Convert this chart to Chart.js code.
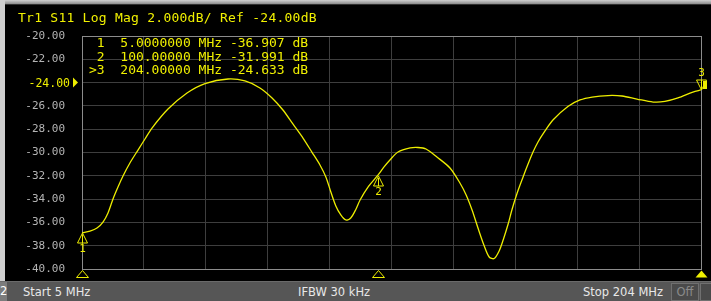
<!DOCTYPE html>
<html>
<head>
<meta charset="utf-8">
<script src="https://cdn.jsdelivr.net/npm/chart.js@4.4.1/dist/chart.umd.min.js"></script>
<style>
  html, body { margin: 0; padding: 0; background: #000; overflow: hidden; }
  #wrap { position: relative; width: 711px; height: 301px; background: #000; }
  #topstrip { position: absolute; left: 0; top: 0; width: 711px; height: 4px; background: linear-gradient(#d0d0d0, #8a8a8a); border-bottom: 1px solid #303030; }
  #leftstrip { position: absolute; left: 0; top: 0; width: 5px; height: 281px; background: #cfcfcf; }
  #header { position: absolute; left: 18px; top: 10px; font: 13px "DejaVu Sans Mono", monospace; line-height: 15px; letter-spacing: 0.25px; color: #f0f000; white-space: pre; }
  #readout { position: absolute; left: 89px; top: 36px; font: 13px "DejaVu Sans Mono", monospace; line-height: 13.5px; color: #f0f000; white-space: pre; margin: 0; }
  #status { position: absolute; left: 0; top: 281px; width: 711px; height: 20px; background: #565656; border-top: 1px solid #6a6a6a; box-sizing: border-box; font: 11.5px "DejaVu Sans", sans-serif; color: #e8e8e8; }
  #status span { position: absolute; top: 3px; white-space: pre; }
  #chnum { position: absolute; left: 0; top: 0; width: 7px; height: 19px; background: #7c7c7c; color: #fff; font: 11.5px "DejaVu Sans", sans-serif; line-height: 19px; text-align: center; }
  .box { position: absolute; top: 1px; height: 16px; background: #4a4a4a; border: 1px solid #707070; color: #8a8a8a; font: 11.5px "DejaVu Sans", sans-serif; line-height: 16px; text-align: center; }
  canvas { position: absolute; left: 0; top: 0; }
</style>
</head>
<body>
<div id="wrap">
  <canvas id="chart" width="711" height="301"></canvas>
  <div id="topstrip"></div>
  <div id="leftstrip"></div>
  <div id="header"></div>
  <pre id="readout"></pre>
  <div id="status">
    <div id="chnum">2</div>
    <span style="left:23px">Start 5 MHz</span>
    <span style="left:298px">IFBW 30 kHz</span>
    <span style="left:583px">Stop 204 MHz</span>
    <div class="box" style="left:671px; width:26px;">Off</div>
    <div class="box" style="left:700px; width:12px;"></div>
  </div>
</div>
<script>
// trace data
const freqs = [5, 7.57, 9.82, 11.75, 13.36, 14.97, 16.57, 18.18, 20.4, 23.0, 25.25, 27.5, 32.65, 38.76, 44.54, 51.94, 57.4, 62.2, 66.1,
  69.6, 72.8, 76.05, 78.9, 81.5, 83.4, 85.0, 86.6, 88.2, 89.8, 91.4, 93.1, 94.4, 97.0, 100, 102.1, 104, 106.6, 110.5,
  113, 115.6, 119.1, 123.3, 126.5, 128.5, 130.4, 132.3, 134.2, 135.9, 137.5, 139.1, 140.4, 142.0, 143.2, 144.9, 146.8,
  148.4, 150.0, 151.6, 153.85, 156.4, 161.2, 165.1, 169, 174.1, 178.6, 183.4, 188.6, 192.4, 196.6, 201.4, 204];
const s11dB = [-36.91, -36.74, -36.48, -35.97, -35.19, -33.99, -32.97, -32.02, -30.9, -29.79, -28.84, -27.9, -26.27, -24.89, -24.08, -23.69, -23.86, -24.46, -25.32,
  -26.35, -27.55, -28.76, -29.96, -31.07, -32.1, -33.39, -34.59, -35.36, -35.79, -35.62, -34.85, -34.08, -32.96, -31.99, -31.24, -30.64, -29.96, -29.61,
  -29.57, -29.7, -30.39, -31.33, -32.62, -33.65, -34.94, -36.48, -37.94, -38.97, -39.1, -38.45, -37.51, -36.14, -34.94, -33.48, -32.1,
  -30.99, -29.96, -29.1, -28.15, -27.21, -26.05, -25.49, -25.24, -25.11, -25.15, -25.41, -25.67, -25.62, -25.32, -24.81, -24.63];

const yTicks = [-40, -38, -36, -34, -32, -30, -28, -26, -24, -22, -20];
const refLevel = -24;
const startMHz = 5;
const stopMHz = 204;
const xDivisions = 10;

const markerNames = ['1', '2', '3'];
const markerFreqs = [5, 100, 204];
const markerValues = [-36.907, -31.991, -24.633];
const activeMarker = 2;

const yellow = '#eeee00';
const gridColor = '#3e3e3e';
const frameColor = '#8c8c8c';

document.getElementById('header').textContent = 'Tr1 S11 Log Mag 2.000dB/ Ref ' + refLevel.toFixed(2) + 'dB';

function fmtFreq(f) {
    // 8 significant digits, like the analyzer
    const intDigits = String(Math.floor(f)).length;
    return f.toFixed(8 - intDigits);
}
const lines = [];
for (let i = 0; i < markerNames.length; i++) {
    const prefix = (i === activeMarker ? '>' : ' ') + markerNames[i];
    lines.push(prefix + '  ' + fmtFreq(markerFreqs[i]).padStart(9) + ' MHz ' + markerValues[i].toFixed(3) + ' dB');
}
document.getElementById('readout').textContent = lines.join('\n');

const points = freqs.map((f, i) => ({x: f, y: s11dB[i]}));

const markerPlugin = {
    id: 'markers',
    afterDatasetsDraw(chart) {
        const ctx = chart.ctx;
        const xs = chart.scales.x, ys = chart.scales.y;
        const area = chart.chartArea;
        ctx.save();
        ctx.strokeStyle = yellow;
        ctx.fillStyle = yellow;
        ctx.lineWidth = 1;
        ctx.font = '11px "DejaVu Sans Mono", monospace';
        ctx.textAlign = 'center';
        for (let i = 0; i < markerNames.length; i++) {
            const px = Math.round(xs.getPixelForValue(markerFreqs[i]));
            const py = Math.round(ys.getPixelForValue(markerValues[i]));
            ctx.beginPath();
            if (i === activeMarker) {
                // inverted triangle above the point, number on top
                ctx.moveTo(px + 0.5, py);
                ctx.lineTo(px - 4.5, py - 10);
                ctx.lineTo(px + 5.5, py - 10);
                ctx.closePath();
                ctx.stroke();
                ctx.beginPath();
                ctx.moveTo(px + 0.5, py - 10);
                ctx.lineTo(px + 0.5, py);
                ctx.stroke();
                ctx.fillRect(px + 2, py - 9, 4, 8);
                ctx.textBaseline = 'bottom';
                ctx.fillText(markerNames[i], px + 0.5, py - 11);
            } else {
                ctx.moveTo(px + 0.5, py);
                ctx.lineTo(px - 4.5, py + 10);
                ctx.lineTo(px + 5.5, py + 10);
                ctx.closePath();
                ctx.stroke();
                ctx.beginPath();
                ctx.moveTo(px + 0.5, py + 2);
                ctx.lineTo(px + 0.5, py + 10);
                ctx.stroke();
                ctx.textBaseline = 'top';
                ctx.fillText(markerNames[i], px + 0.5, py + 11);
            }
            // stimulus triangle under the grid
            const by = area.bottom + 1.5;
            ctx.beginPath();
            ctx.moveTo(px + 0.5, by);
            ctx.lineTo(px - 5.5, by + 7);
            ctx.lineTo(px + 6.5, by + 7);
            ctx.closePath();
            if (i === activeMarker) ctx.fill(); else ctx.stroke();
        }
        // reference level label and pointer
        const ry = ys.getPixelForValue(refLevel);
        ctx.font = '11.5px "DejaVu Sans Mono", monospace';
        ctx.textAlign = 'right';
        ctx.textBaseline = 'middle';
        ctx.fillText(refLevel.toFixed(2), 70, ry + 1);
        ctx.beginPath();
        ctx.moveTo(73, ry - 5);
        ctx.lineTo(78, ry);
        ctx.lineTo(73, ry + 5);
        ctx.closePath();
        ctx.fill();
        ctx.restore();
    }
};

const chart = new Chart(document.getElementById('chart'), {
    type: 'line',
    data: {
        datasets: [{
            data: points,
            borderColor: yellow,
            borderWidth: 1.3,
            pointRadius: 0,
            tension: 0.3,
            fill: false
        }]
    },
    options: {
        responsive: false,
        devicePixelRatio: 1,
        animation: false,
        layout: { padding: { left: 0, top: 36, right: 10, bottom: 32 } },
        plugins: { legend: { display: false }, tooltip: { enabled: false } },
        scales: {
            x: {
                type: 'linear',
                min: startMHz,
                max: stopMHz,
                afterBuildTicks: s => {
                    const step = (stopMHz - startMHz) / xDivisions;
                    s.ticks = [];
                    for (let i = 0; i <= xDivisions; i++) s.ticks.push({value: startMHz + i * step});
                },
                afterFit: s => { s.height = 0; },
                ticks: { display: false },
                grid: {
                    drawTicks: false,
                    color: c => (c.index === 0 || c.index === xDivisions) ? frameColor : gridColor
                },
                border: { color: frameColor }
            },
            y: {
                min: yTicks[0],
                max: yTicks[yTicks.length - 1],
                afterBuildTicks: s => { s.ticks = yTicks.map(v => ({value: v})); },
                afterFit: s => { s.width = 82; },
                ticks: {
                    padding: 17,
                    font: { family: 'DejaVu Sans Mono', size: 11 },
                    color: c => c.tick.value === refLevel ? 'rgba(0,0,0,0)' : '#b4b4b4',
                    callback: v => v.toFixed(2)
                },
                grid: {
                    drawTicks: false,
                    color: c => (c.index === 0 || c.index === yTicks.length - 1) ? frameColor : gridColor
                },
                border: { color: frameColor }
            }
        }
    },
    plugins: [markerPlugin]
});
</script>
</body>
</html>
